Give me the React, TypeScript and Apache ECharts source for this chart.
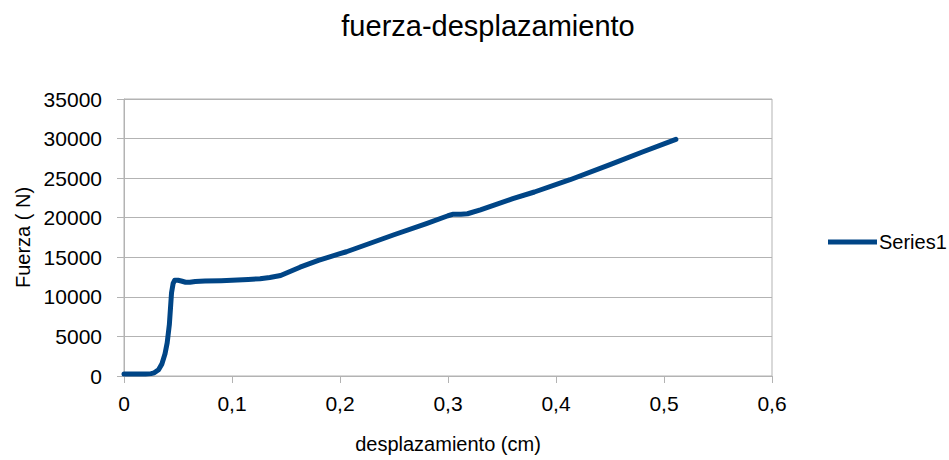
import React, { useEffect, useRef } from "react";
import * as echarts from "echarts";

const seriesName = "Series1";
const xValues = [
  0, 0.01, 0.02, 0.025, 0.028, 0.032, 0.035, 0.038, 0.04, 0.042, 0.043, 0.044, 0.0455, 0.047,
  0.05, 0.053, 0.057, 0.061, 0.066, 0.075, 0.09, 0.1, 0.115, 0.126, 0.135, 0.145, 0.163, 0.18,
  0.2, 0.206, 0.25, 0.28, 0.3, 0.305, 0.312, 0.318, 0.33, 0.36, 0.38, 0.413, 0.45, 0.48, 0.511,
];
const yValues = [
  250, 250, 260, 300, 400, 800, 1500, 2800, 4200, 6500, 8500, 10500, 11700, 12100,
  12100, 12000, 11850, 11850, 11950, 12000, 12050, 12100, 12200, 12300, 12450, 12700, 13750, 14600,
  15450, 15700, 17850, 19250, 20250, 20450, 20450, 20500, 21000, 22400, 23250, 24800, 26700, 28300, 29900,
];
const xTicks = { min: 0, max: 0.6, interval: 0.1 };
const yTicks = { min: 0, max: 35000, interval: 5000 };

const FONT = "'Liberation Sans', Arial, sans-serif";

export default function App() {
  const ref = useRef<HTMLDivElement>(null);
  useEffect(() => {
    if (!ref.current) return;
    const chart = echarts.init(ref.current, null, { renderer: "svg" });
    const data = xValues.map((x, i) => [x, yValues[i]]);
    chart.setOption({
      animation: false,
      backgroundColor: "#ffffff",
      textStyle: { fontFamily: FONT },
      title: {
        text: "fuerza-desplazamiento",
        left: 483,
        textAlign: "center",
        top: 6,
        textStyle: { fontFamily: FONT, fontSize: 29, fontWeight: "normal", color: "#000" },
      },
      legend: {
        left: 823,
        top: 227,
        icon: "rect",
        itemWidth: 49,
        itemHeight: 5,
        itemGap: 2,
        textStyle: { fontFamily: FONT, fontSize: 20, color: "#000", padding: [0, 0, 0, -3] },
        data: [seriesName],
      },
      grid: {
        left: 124,
        right: 177,
        top: 99,
        bottom: 84,
        show: true,
        borderColor: "#b3b3b3",
        borderWidth: 1,
      },
      xAxis: {
        type: "value",
        min: xTicks.min,
        max: xTicks.max,
        interval: xTicks.interval,
        name: "desplazamiento (cm)",
        nameLocation: "middle",
        nameGap: 58,
        nameTextStyle: { fontFamily: FONT, fontSize: 20, color: "#000" },
        axisLine: { show: true, lineStyle: { color: "#b3b3b3", width: 1 } },
        axisTick: { show: true, length: 7, inside: false, lineStyle: { color: "#b3b3b3" } },
        splitLine: { show: false },
        axisLabel: {
          margin: 17,
          fontFamily: FONT,
          fontSize: 21,
          color: "#000",
          formatter: (v: number) => (v === 0 ? "0" : v.toFixed(1).replace(".", ",")),
        },
      },
      yAxis: {
        type: "value",
        min: yTicks.min,
        max: yTicks.max,
        interval: yTicks.interval,
        name: "Fuerza ( N)",
        nameLocation: "middle",
        nameGap: 89,
        nameTextStyle: { fontFamily: FONT, fontSize: 20, color: "#000" },
        axisLine: { show: true, lineStyle: { color: "#b3b3b3", width: 1 } },
        axisTick: { show: true, length: 7, inside: false, lineStyle: { color: "#b3b3b3" } },
        splitLine: { show: true, lineStyle: { color: "#b3b3b3", width: 1 } },
        axisLabel: {
          margin: 22,
          fontFamily: FONT,
          fontSize: 21,
          color: "#000",
          formatter: (v: number) => String(Math.round(v)),
        },
      },
      series: [
        {
          name: seriesName,
          type: "line",
          data,
          symbol: "none",
          showSymbol: false,
          color: "#004586",
          lineStyle: { color: "#004586", width: 5, cap: "round", join: "round" },
        },
      ],
    });
    return () => chart.dispose();
  }, []);
  return <div ref={ref} style={{ width: 949, height: 460, position: "absolute", left: 0, top: 0 }} />;
}
